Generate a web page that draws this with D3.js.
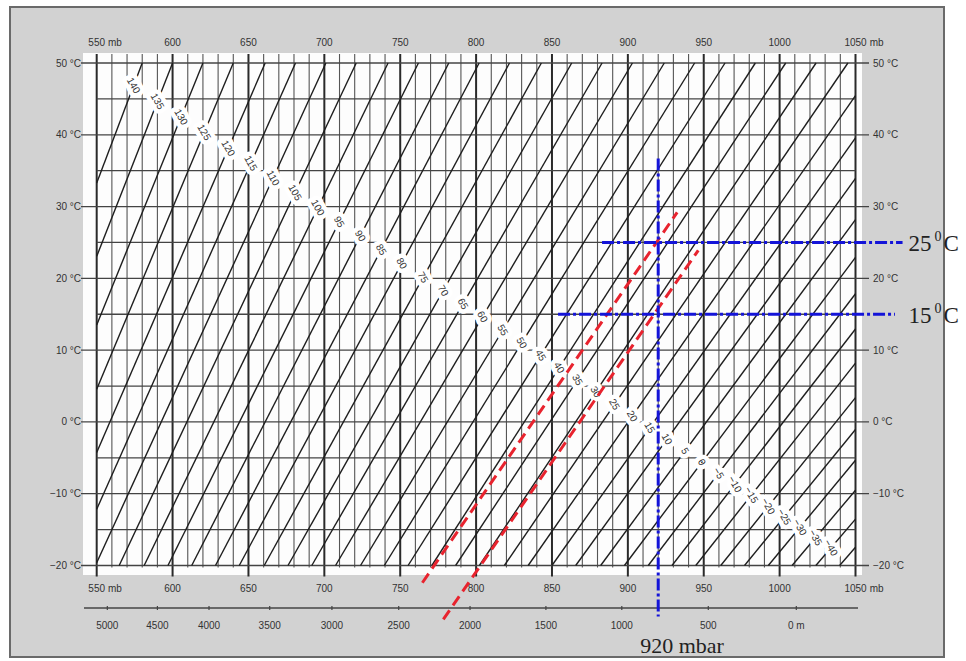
<!DOCTYPE html>
<html>
<head>
<meta charset="utf-8">
<script src="https://cdn.jsdelivr.net/npm/d3@7"></script>
<style>
  body { margin: 0; background: #fff; }
  svg { display: block; }
  .lab { font-family: "Liberation Sans", Arial, sans-serif; font-size: 10px; fill: #333; }
  .serif { font-family: "Liberation Serif", "Times New Roman", serif; fill: #222; }
</style>
</head>
<body>
<div id="chart"></div>
<script>
// pressure axis (mb) and temperature axis (°C)
var pressureTicks = [550, 600, 650, 700, 750, 800, 850, 900, 950, 1000, 1050];
var tempTicks = [50, 40, 30, 20, 10, 0, -10, -20];

// altitude scale under the chart, read against the pressure axis
var altLabels = ["5000", "4500", "4000", "3500", "3000", "2500", "2000", "1500", "1000", "500", "0 m"];
var altPressure = [557, 590, 624, 664, 705, 749, 796, 846, 896, 953, 1011];

// density lines: label and pressure where each line meets the 50 °C line
var densityLabels = [140, 135, 130, 125, 120, 115, 110, 105, 100, 95, 90, 85, 80, 75, 70, 65, 60, 55, 50, 45,
                     40, 35, 30, 25, 20, 15, 10, 5, 0, -5, -10, -15, -20, -25, -30, -35, -40, null];
var densityTop = [580, 600, 620, 640, 661, 681, 701, 721, 742, 762, 782, 802, 822, 843, 863, 883, 903, 924, 944, 964,
                  984, 1004, 1024, 1045, 1065, 1085, 1105, 1126, 1146, 1166, 1186, 1206, 1227, 1247, 1267, 1287, 1307, 1327];

// red dashed lines, [pressure, temp] end points
var redLineA = [[764.6, -22.4], [932.5, 29.2]];
var redLineB = [[778.4, -27.5], [946.4, 23.9]];

// blue reading lines
var markPressure = 920;
var markPressureSpan = [36.7, -27.1];
var markTemps = [25, 15];
var markTempSpans = [[883, 1081], [854, 1076]];

var width = 966, height = 661;

var svg = d3.select("#chart").append("svg")
    .attr("width", width)
    .attr("height", height);

var x = d3.scaleLinear().domain([550, 1050]).range([96.7, 855.5]);
var y = d3.scaleLinear().domain([-20, 50]).range([565.5, 63]);

// grey card and white plot area
svg.append("rect")
    .attr("x", 10).attr("y", 7).attr("width", 934).attr("height", 650)
    .attr("fill", "#d2d2d2").attr("stroke", "#6a6a6a").attr("stroke-width", 2);
svg.append("rect")
    .attr("x", 83).attr("y", 53).attr("width", 779).attr("height", 522)
    .attr("fill", "#fdfdfd");

var grid = svg.append("g");

// vertical lines every 10 mb, heavier every 50 mb
d3.range(550, 1051, 10).forEach(function(p) {
  var major = p % 50 === 0;
  grid.append("line")
      .attr("x1", x(p)).attr("x2", x(p))
      .attr("y1", 54)
      .attr("y2", major ? y(-20) + 11 : y(-20) + 2)
      .attr("stroke", major ? "#2a2a2a" : "#555")
      .attr("stroke-width", major ? 2 : 1.1);
});

// horizontal lines every 5 °C, the 10 °C ones run out to the labels
d3.range(-20, 51, 5).forEach(function(t) {
  var major = t % 10 === 0;
  grid.append("line")
      .attr("x1", major ? 81 : x(550)).attr("x2", major ? 869 : x(1050))
      .attr("y1", y(t)).attr("y2", y(t))
      .attr("stroke", "#444")
      .attr("stroke-width", 1.3);
});

// density lines p = k * (T + 273.15)
var T0 = 273.15;
var dens = densityTop.map(function(pt, i) {
  var k = pt / (50 + T0);
  var tTop = Math.min(50, 1050 / k - T0);
  var tBot = Math.max(-20, 550 / k - T0);
  return {label: densityLabels[i], k: k, tTop: tTop, tBot: tBot};
});

grid.selectAll(".dens")
  .data(dens)
  .enter().append("line")
    .attr("class", "dens")
    .attr("x1", function(d) { return x(d.k * (d.tBot + T0)); })
    .attr("y1", function(d) { return y(d.tBot); })
    .attr("x2", function(d) { return x(d.k * (d.tTop + T0)); })
    .attr("y2", function(d) { return y(d.tTop); })
    .attr("stroke", "#1e1e1e")
    .attr("stroke-width", 1.4);

// labels sit where each density line crosses a straight band
var b0 = [x.invert(133), y.invert(85)], b1 = [x.invert(830), y.invert(547)];
var dp = b1[0] - b0[0], dt = b1[1] - b0[1];
var lab = svg.append("g");
dens.filter(function(d) { return d.label !== null; }).forEach(function(d) {
  var s = (d.k * (b0[1] + T0) - b0[0]) / (dp - d.k * dt);
  var px = x(b0[0] + s * dp), py = y(b0[1] + s * dt);
  lab.append("text")
      .attr("class", "lab")
      .attr("transform", "translate(" + px + "," + py + ") rotate(60)")
      .attr("text-anchor", "middle")
      .attr("dy", "0.35em")
      .style("font-size", "10px")
      .style("paint-order", "stroke")
      .attr("stroke", "#fff")
      .attr("stroke-width", 9)
      .attr("stroke-linejoin", "round")
      .text(d.label < 0 ? "\u2212" + (-d.label) : d.label);
});

// pressure labels top and bottom
[46, 592].forEach(function(by) {
  pressureTicks.forEach(function(p, i) {
    var t = svg.append("text").attr("class", "lab")
        .attr("x", x(p)).attr("y", by)
        .attr("text-anchor", "middle")
        .text(p);
    if (i === 0 || i === pressureTicks.length - 1) {
      var w = t.node().getComputedTextLength();
      svg.append("text").attr("class", "lab")
          .attr("x", x(p) + w / 2 + 3).attr("y", by)
          .text("mb");
    }
  });
});

// temperature labels left and right
tempTicks.forEach(function(t) {
  var s = (t < 0 ? "\u2212" + (-t) : t) + " \u00b0C";
  svg.append("text").attr("class", "lab")
      .attr("x", 81).attr("y", y(t)).attr("dy", "0.35em")
      .attr("text-anchor", "end")
      .text(s);
  svg.append("text").attr("class", "lab")
      .attr("x", 873).attr("y", y(t)).attr("dy", "0.35em")
      .text(s);
});

// altitude scale
svg.append("line")
    .attr("x1", 84).attr("x2", 858).attr("y1", 608).attr("y2", 608)
    .attr("stroke", "#444").attr("stroke-width", 1.3);
altPressure.forEach(function(p, i) {
  svg.append("line")
      .attr("x1", x(p)).attr("x2", x(p)).attr("y1", 606).attr("y2", 610)
      .attr("stroke", "#444").attr("stroke-width", 1.2);
  svg.append("text").attr("class", "lab")
      .attr("x", x(p)).attr("y", 629)
      .attr("text-anchor", "middle")
      .text(altLabels[i]);
});

// red dashed density lines
[redLineA, redLineB].forEach(function(l) {
  svg.append("line")
      .attr("x1", x(l[0][0])).attr("y1", y(l[0][1]))
      .attr("x2", x(l[1][0])).attr("y2", y(l[1][1]))
      .attr("stroke", "#e8232e").attr("stroke-width", 3)
      .attr("stroke-dasharray", "11,6");
});

// blue reading lines
var blue = "#1414d8";
svg.append("line")
    .attr("x1", x(markPressure)).attr("x2", x(markPressure))
    .attr("y1", y(markPressureSpan[0])).attr("y2", y(markPressureSpan[1]))
    .attr("stroke", blue).attr("stroke-width", 3)
    .attr("stroke-dasharray", "12,3,3,3");
markTemps.forEach(function(t, i) {
  svg.append("line")
      .attr("x1", x(markTempSpans[i][0])).attr("x2", x(markTempSpans[i][1]))
      .attr("y1", y(t)).attr("y2", y(t))
      .attr("stroke", blue).attr("stroke-width", 3)
      .attr("stroke-dasharray", "12,3,3,3");
  var tx = x(1081) + 6, ty = y(t) + 9;
  var n = svg.append("text").attr("class", "serif")
      .attr("x", tx).attr("y", ty).style("font-size", "23px")
      .text(t);
  var nw = n.node().getComputedTextLength();
  svg.append("text").attr("class", "serif")
      .attr("x", tx + nw + 3).attr("y", ty - 10).style("font-size", "14px")
      .text("0");
  svg.append("text").attr("class", "serif")
      .attr("x", tx + nw + 12).attr("y", ty).style("font-size", "23px")
      .text("C");
});

svg.append("text").attr("class", "serif")
    .attr("x", x(markPressure) - 18).attr("y", 653)
    .style("font-size", "22px")
    .text("920 mbar");
</script>
</body>
</html>
